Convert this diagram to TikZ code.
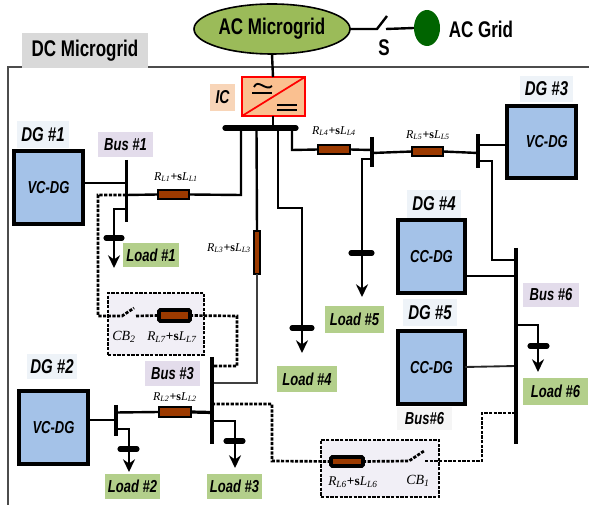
\documentclass[tikz,border=0pt]{standalone}
\usepackage{fontspec}
\setmainfont{Liberation Sans}[FakeStretch=0.75]
\newfontfamily\serf{Liberation Serif}
\usetikzlibrary{arrows.meta,shapes.geometric}
\definecolor{dgblue}{HTML}{A4C2E8}
\definecolor{acgreen}{HTML}{9BBB59}
\definecolor{loadg}{HTML}{B3CF8B}
\definecolor{busl}{HTML}{E3DCEB}
\definecolor{dgl}{HTML}{EEF3F8}
\definecolor{resb}{HTML}{9C3A00}
\definecolor{icf}{HTML}{FAC090}
\definecolor{icl}{HTML}{F8D5B8}
\definecolor{cbf}{HTML}{F1EFF6}
\definecolor{gridg}{HTML}{006400}
\newcommand\bx[7]{%
 \pgfmathsetmacro\cx{(#3+#5)/2}\pgfmathsetmacro\cy{(#4+#6)/2}%
 \pgfmathsetmacro\bw{(#5-#3)*0.75}\pgfmathsetmacro\bh{(#6-#4)*0.75}%
 \node[inner sep=0pt,outer sep=0pt,minimum width=\bw pt,minimum height=\bh pt,#1] (#2) at (\cx,\cy) {#7};}
\newcommand\rlab[2]{{\serf\itshape\fontsize{#1}{#1}\selectfont R\textsubscript{L#2}{\upshape\bfseries +s}L\textsubscript{L#2}}}
\tikzset{
 wire/.style={line width=1.8pt,line join=miter},
 bus/.style={line width=2.6pt},
 dash1/.style={line width=2pt,dash pattern=on 2.4pt off 1.1pt},
 larr/.style={line width=1.8pt,-{Stealth[length=9.5pt,width=9pt]}},
 bar/.style={line width=3.8pt,line cap=round},
 dgbox/.style={draw=black,line width=3pt,fill=dgblue,font=\bfseries\itshape\fontsize{13}{13}\selectfont},
 res/.style={draw=black,line width=2.2pt,fill=resb},
 loadl/.style={fill=loadg,font=\bfseries\itshape\fontsize{13}{13}\selectfont},
 busll/.style={fill=busl,font=\bfseries\itshape\fontsize{13}{13}\selectfont},
 dgll/.style={fill=dgl,font=\bfseries\itshape\fontsize{15}{15}\selectfont},
 cbox/.style={draw=black,fill=cbf,dash1},
 txt/.style={inner sep=0pt,font=\bfseries\fontsize{17}{17}\selectfont},
}
\begin{document}
\begin{tikzpicture}[x=0.75pt,y=-0.75pt]
\useasboundingbox (0,0) rectangle (589,505);
% frame
\coordinate (fa) at (8,505); \coordinate (fb) at (8,67); \coordinate (fc) at (589,67);
\draw[line width=1.3pt,black!70] (fa) -- (fb) -- (fc);
\bx{fill=black!15,font=\bfseries\fontsize{17}{17}\selectfont}{dcl}{22}{33}{148}{68}{DC Microgrid}
% AC side
\node[ellipse,draw=black,line width=1.2pt,fill=acgreen,minimum width=117pt,minimum height=37.5pt,inner sep=0pt,outer sep=0pt,font=\bfseries\fontsize{17}{17}\selectfont] (ac) at (272,29) {AC Microgrid};
\node[ellipse,fill=gridg,minimum width=19.5pt,minimum height=27pt,inner sep=0pt,outer sep=0pt] (grid) at (427,28) {};
\node[txt] (gridl) at (481,29) {AC Grid};
\node[txt] (sl) at (384,48) {S};
\coordinate (s1) at (377,29); \coordinate (s2) at (387,16); \coordinate (s3) at (386,29);
\draw[wire] (ac.east) -- (s1) -- (s2);
\draw[wire] (s3) -- (grid.west);
% IC
\bx{draw=red,line width=1.1pt,fill=icf}{ic}{242}{77}{305}{116}{}
\draw[red,line width=1.3pt] (ic.south west) -- (ic.north east);
\coordinate (ta) at (252,93); \coordinate (tb) at (272,93);
\draw[line width=1.9pt] (ta) -- (tb);
\coordinate (tc) at (254,87); \coordinate (td) at (272,86);
\draw[line width=1.4pt] (tc) .. controls (258,78) and (266,92) .. (td);
\coordinate (ea) at (277,105); \coordinate (eb) at (297,105); \coordinate (ec) at (277,110); \coordinate (ed) at (297,110);
\draw[line width=1.9pt] (ea) -- (eb) (ec) -- (ed);
\bx{fill=icl,font=\bfseries\itshape\fontsize{14}{14}\selectfont}{icll}{210}{84}{235}{111}{IC}
\coordinate (ic0) at (273,127.5);
\draw[wire] (ac.south) -- (273,77);
\draw[wire] (273,116) -- (ic0);
% top bus
\coordinate (tba) at (225,128); \coordinate (tbb) at (296,128);
% CB boxes
\bx{cbox}{cb2}{108}{293}{204}{355}{}
\bx{cbox}{cb1}{321}{440}{439}{497}{}
% DG boxes
\bx{dgbox}{dg1}{14}{151}{83}{224}{VC-DG}
\bx{dgbox}{dg2}{19}{391}{88}{464}{VC-DG}
\bx{dgbox}{dg3}{507}{106}{576}{178}{\hspace*{8pt}VC-DG}
\bx{dgbox}{dg4}{398}{220}{465}{293}{CC-DG}
\bx{dgbox}{dg5}{398}{331}{465}{404}{CC-DG}
% labels
\bx{dgll}{dg1l}{17}{121}{69}{148}{DG \#1}
\bx{dgll}{dg2l}{27}{354}{77}{379}{DG \#2}
\bx{dgll}{dg3l}{520}{76}{573}{102}{DG \#3}
\bx{dgll}{dg4l}{407}{190}{461}{218}{DG \#4}
\bx{dgll}{dg5l}{403}{299}{457}{326}{DG \#5}
\bx{busll}{b1l}{98}{132}{153}{157}{Bus \#1}
\bx{busll}{b3l}{145}{361}{200}{386}{Bus \#3}
\bx{busll}{b6l}{523}{283}{579}{307}{Bus \#6}
\bx{busll,fill=black!4}{b6m}{397}{407}{452}{430}{Bus\#6}
\bx{loadl}{l1}{123}{243}{179}{267}{Load \#1}
\bx{loadl}{l2}{105}{474}{160}{499}{Load \#2}
\bx{loadl}{l3}{207}{474}{262}{499}{Load \#3}
\bx{loadl}{l4}{277}{366}{337}{392}{Load \#4}
\bx{loadl}{l5}{325}{306}{384}{333}{Load \#5}
\bx{loadl}{l6}{523}{378}{588}{405}{Load \#6}
% resistors
\bx{res}{r1}{158}{190}{189}{199}{}
\bx{res}{r2}{159}{407}{191}{417}{}
\bx{res,line width=1.6pt}{r3}{254}{231}{260}{274}{}
\bx{res}{r4}{318}{145}{350}{154}{}
\bx{res}{r5}{412}{147}{443}{156}{}
\bx{res,line width=2.8pt,rounded corners=1pt}{r6}{331}{457}{363}{466}{}
\bx{res,line width=2.8pt,rounded corners=1pt}{r7}{159}{310}{190}{321}{}
% resistor labels
\node[inner sep=0pt] (t1) at (176,177) {\rlab{9}{1}};
\node[inner sep=0pt] (t2) at (175,397) {\rlab{9}{2}};
\node[inner sep=0pt] (t3) at (229,248) {\rlab{9}{3}};
\node[inner sep=0pt] (t4) at (334,131) {\rlab{9}{4}};
\node[inner sep=0pt] (t5) at (428,135) {\rlab{9}{5}};
\node[inner sep=0pt] (t6) at (353,482) {\rlab{10}{6}};
\node[inner sep=0pt] (t7) at (172,337) {\rlab{10}{7}};
\node[inner sep=0pt,font=\serf\itshape\fontsize{10.5}{10.5}\selectfont] (c2) at (124,337) {CB\textsubscript{2}};
\node[inner sep=0pt,font=\serf\itshape\fontsize{10.5}{10.5}\selectfont] (c1) at (418,481) {CB\textsubscript{1}};
% junction points
\coordinate (b1t) at (126.5,160); \coordinate (b1b) at (126.5,222);
\coordinate (b2t) at (116,405); \coordinate (b2b) at (116,436);
\coordinate (b3t) at (212,357); \coordinate (b3b) at (212,444);
\coordinate (b4t) at (372,137); \coordinate (b4b) at (372,167);
\coordinate (b5t) at (478,134); \coordinate (b5b) at (478,168);
\coordinate (b6t) at (516,248); \coordinate (b6b) at (516,444);
% connectors
\draw[wire] (dg1.east |- 0,183) -- (126,183);
\draw[wire] (126,195) -- (r1.west);
\draw[wire] (r1.east) -- (241,195) -- (241,128);
\draw[wire] (dg2.east |- 0,420) -- (116,420);
\draw[wire] (116,412.5) -- (r2.west);
\draw[line width=2.4pt] (r2.east) -- (212,412.5);
\draw[wire] (256.5,128) -- (r3.north);
\draw[line width=1.4pt,black!75] (r3.south) -- (257,383) -- (212,383);
\draw[wire] (278,128) -- (278,208) -- (302,208) -- (302,328);
\draw[wire] (292,128) -- (292,150) -- (r4.west);
\draw[wire] (r4.east) -- (372,150);
\draw[wire] (372,153) -- (r5.west);
\draw[wire] (r5.east) -- (478,153);
\draw[line width=2pt] (478,145) -- (dg3.west |- 0,145);
\draw[wire] (478,161) -- (492,161) -- (492,260) -- (516,260);
\draw[wire] (dg4.east |- 0,276) -- (516,276);
\draw[line width=1.4pt,black!85] (dg5.east |- 0,367) -- (516,366);
% dotted
\draw[dash1] (126,195) -- (98,195) -- (98,316) -- (122,316) -- (134,308);
\draw[dash1] (136,316) -- (r7.west);
\draw[dash1] (r7.east) -- (237,316) -- (237,366) -- (212,366);
\draw[dash1] (212,404) -- (272,404) -- (272,461) -- (r6.west);
\draw[dash1] (r6.east) -- (409,461) -- (424,451);
\draw[dash1] (425,461) -- (482,461) -- (482,413) -- (515,413);
% buses
\draw[line width=3.9pt,line cap=round] (tba) -- (tbb);
\draw[bus] (b1t) -- (b1b);
\draw[bus] (b2t) -- (b2b);
\draw[bus] (b3t) -- (b3b);
\draw[bus] (b4t) -- (b4b);
\draw[bus] (b5t) -- (b5b);
\draw[bus] (b6t) -- (b6b);
% loads
\coordinate (a1) at (114,268); \coordinate (a2) at (129,472); \coordinate (a3) at (235,468);
\coordinate (a4) at (302,353); \coordinate (a5) at (362,297); \coordinate (a6) at (538,372);
\draw[line width=1.3pt] (126,209) -- (114,209) -- (114,238);
\draw[larr] (114,238) -- (a1);
\draw[line width=1.3pt] (116,429) -- (129,429) -- (129,449);
\draw[larr] (129,449) -- (a2);
\draw[line width=1.3pt] (212,421) -- (235,421) -- (235,441);
\draw[larr] (235,441) -- (a3);
\draw[larr] (302,328) -- (a4);
\draw[line width=1.3pt] (372,159) -- (362,159) -- (362,253);
\draw[larr] (362,253) -- (a5);
\draw[wire] (516,325) -- (538,325) -- (538,346);
\draw[larr] (538,346) -- (a6);
\coordinate (c1a) at (106,238); \coordinate (c1b) at (122,238);
\coordinate (c2a) at (120,449); \coordinate (c2b) at (137,449);
\coordinate (c3a) at (226,441); \coordinate (c3b) at (243,441);
\coordinate (c4a) at (292,328); \coordinate (c4b) at (312,328);
\coordinate (c5a) at (351,253); \coordinate (c5b) at (372,253);
\coordinate (c6a) at (530,346); \coordinate (c6b) at (547,346);
\draw[bar] (c1a) -- (c1b);
\draw[bar] (c2a) -- (c2b);
\draw[bar] (c3a) -- (c3b);
\draw[bar] (c4a) -- (c4b);
\draw[bar] (c5a) -- (c5b);
\draw[bar] (c6a) -- (c6b);
\end{tikzpicture}
\end{document}
